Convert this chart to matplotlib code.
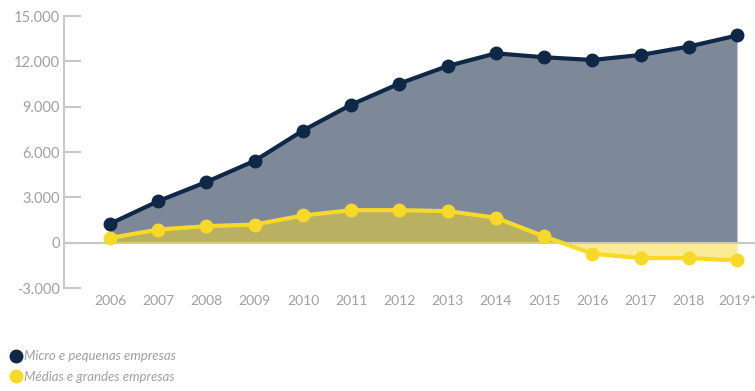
import matplotlib.pyplot as plt
import matplotlib
from matplotlib.lines import Line2D

matplotlib.rcParams['font.family'] = ['Lato', 'DejaVu Sans']

anos = [2006, 2007, 2008, 2009, 2010, 2011, 2012, 2013, 2014, 2015, 2016, 2017, 2018, 2019]
rotulos = ['2006', '2007', '2008', '2009', '2010', '2011', '2012', '2013', '2014',
           '2015', '2016', '2017', '2018', '2019*']
micro_pequenas = [1250, 2750, 4020, 5420, 7420, 9130, 10530, 11690, 12530, 12270,
                  12090, 12420, 12980, 13710]
medias_grandes = [310, 870, 1090, 1200, 1800, 2150, 2150, 2090, 1650, 420,
                  -730, -1020, -1020, -1180]
yticks = [-3000, 0, 3000, 6000, 9000, 12000, 15000]
ylabels = ['-3.000', '0', '3.000', '6.000', '9.000', '12.000', '15.000']

azul = '#0f2848'
azul_area = '#7d8899'
amarelo = '#f7d92a'
cinza = '#c8c8c8'
texto = '#a0a0a0'

fig = plt.figure(figsize=(7.55, 3.91), dpi=100)
ax = fig.add_axes([64 / 755, 1 - 288 / 391, 1 - 64 / 755, 272 / 391])

ax.fill_between(anos, 0, micro_pequenas, color=azul_area, lw=0, zorder=1)
ax.fill_between(anos, 0, medias_grandes, color=amarelo, alpha=0.5, lw=0, zorder=2)
ax.axhline(0, color=cinza, lw=1.5, zorder=1.5)

ax.plot(anos, micro_pequenas, color=azul, lw=3, marker='o', ms=9, zorder=4)
ax.plot(anos, medias_grandes, color=amarelo, lw=3, marker='o', ms=9, zorder=3)

ax.set_xlim(2006 - 46 / 48.2, 2019 + 18 / 48.2)
ax.set_ylim(-3000, 15000)
ax.set_yticks(yticks)
ax.set_yticklabels(ylabels)
ax.set_xticks(anos)
ax.set_xticklabels(rotulos)

for lado in ['top', 'right', 'bottom']:
    ax.spines[lado].set_visible(False)
ax.spines['left'].set_color(cinza)
ax.spines['left'].set_linewidth(1.5)
ax.tick_params(axis='y', direction='in', length=12, width=1.5, color=cinza,
               labelcolor=texto, labelsize=10.5, pad=3)
ax.tick_params(axis='x', length=0, labelcolor=texto, labelsize=10, pad=5)

handles = [Line2D([], [], marker='o', ls='', ms=9, color=azul),
           Line2D([], [], marker='o', ls='', ms=9, color=amarelo)]
fig.legend(handles, ['Micro e pequenas empresas', 'Médias e grandes empresas'],
           loc='lower left', bbox_to_anchor=(0.0, -0.01), frameon=False,
           handlelength=0.6, handletextpad=0.3, labelspacing=0.65,
           prop={'size': 9.5, 'style': 'italic'}, labelcolor=texto)

fig.savefig('out.png', dpi=100)
